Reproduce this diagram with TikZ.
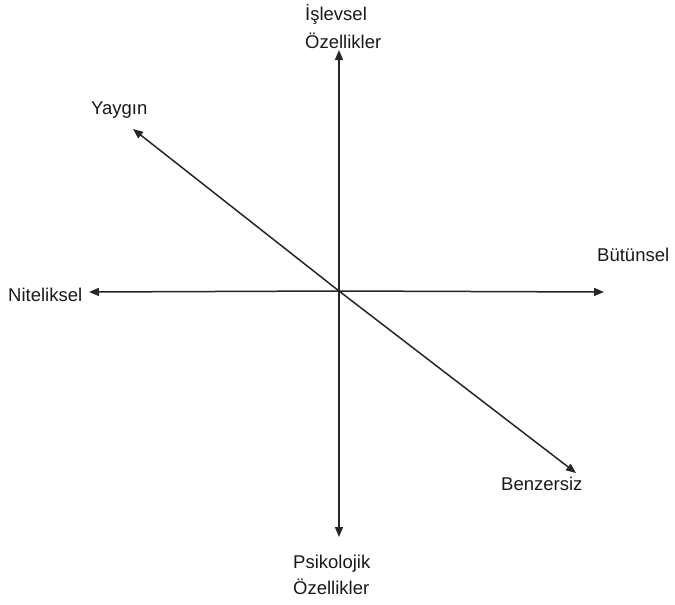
\documentclass[tikz,border=0pt]{standalone}
\usepackage{fontspec}
\setmainfont{Liberation Sans}
\usetikzlibrary{arrows.meta}
\tikzset{
  axis/.style={line width=1.5pt, draw=black!85, -{Triangle[length=10pt,width=8pt]}},
  lbl/.style={inner sep=0pt, anchor=base west, font=\fontsize{18.5}{22}\selectfont, text=black!90},
}
\begin{document}
\begin{tikzpicture}[x=1pt,y=-1pt]
\useasboundingbox (0,0) rectangle (675,605);
\coordinate (O) at (339,291);
\coordinate (up) at (339,50);
\coordinate (down) at (339,537);
\coordinate (left) at (89,292);
\coordinate (right) at (604,292);
\coordinate (ul) at (133,129);
\coordinate (lr) at (576,473);
\draw[axis] (O) -- (up);
\draw[axis] (O) -- (down);
\draw[axis] (O) -- (left);
\draw[axis] (O) -- (right);
\draw[axis] (O) -- (ul);
\draw[axis] (O) -- (lr);
\node[lbl] (isl) at (305,20) {İşlevsel};
\node[lbl] (ozl1) at (305,48) {Özellikler};
\node[lbl] (yay) at (91,114) {Yaygın};
\node[lbl] (nit) at (8,301) {Niteliksel};
\node[lbl] (but) at (597,261) {Bütünsel};
\node[lbl] (ben) at (501,490) {Benzersiz};
\node[lbl] (psi) at (293,568) {Psikolojik};
\node[lbl] (ozl2) at (293,594) {Özellikler};
\end{tikzpicture}
\end{document}
